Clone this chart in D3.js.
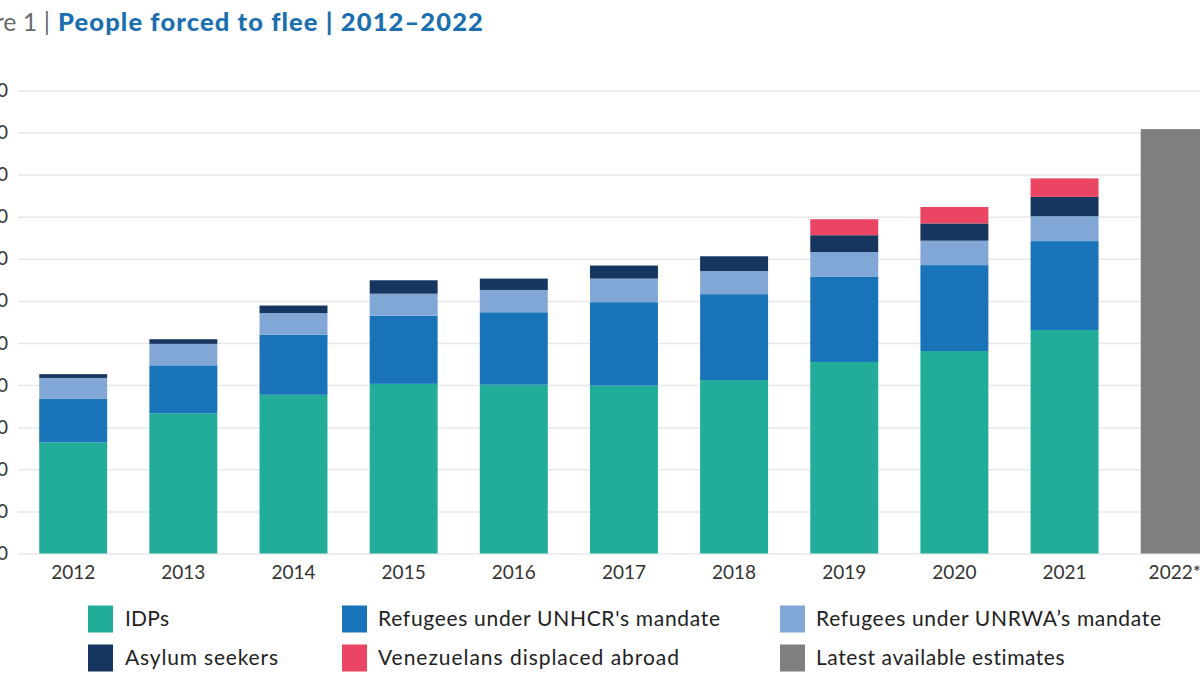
<!DOCTYPE html>
<html>
<head>
<meta charset="utf-8">
<script src="https://cdn.jsdelivr.net/npm/d3@7"></script>
<style>
  html, body { margin: 0; padding: 0; background: #ffffff; }
  svg { display: block; font-family: Lato, "Open Sans", sans-serif; }
</style>
</head>
<body>
<svg id="chart" width="1200" height="675"></svg>
<script>
// ---- Data (millions) ----
const years = ["2012","2013","2014","2015","2016","2017","2018","2019","2020","2021","2022*"];
const idps        = [26.4, 33.3, 37.7, 40.3, 40.1, 39.9, 41.2, 45.5, 48.1, 53.1, 0];
const refUNHCR    = [10.4, 11.4, 14.3, 16.2, 17.2, 19.8, 20.4, 20.3, 20.4, 21.1, 0];
const refUNRWA    = [ 4.9,  5.1,  5.1,  5.2,  5.3,  5.6,  5.5,  5.8,  5.8,  5.9, 0];
const asylum      = [ 0.9,  1.1,  1.8,  3.2,  2.7,  3.1,  3.5,  4.0,  4.1,  4.6, 0];
const venezuelans = [ 0,    0,    0,    0,    0,    0,    0,    3.8,  3.9,  4.4, 0];
const estimates   = [ 0,    0,    0,    0,    0,    0,    0,    0,    0,    0,  100.8];
const yTicks = [0,10,20,30,40,50,60,70,80,90,100,110];

const seriesNames = ["IDPs","Refugees under UNHCR's mandate","Refugees under UNRWA\u2019s mandate",
                     "Asylum seekers","Venezuelans displaced abroad","Latest available estimates"];
const seriesValues = [idps, refUNHCR, refUNRWA, asylum, venezuelans, estimates];
const colors = ["#22ad9a","#1873b8","#81a7d6","#17365f","#ea4562","#7f7e80"];

const svg = d3.select("#chart");

// fit a text element to a target width via letter-spacing
function fitWidth(sel, target) {
  const node = sel.node();
  const len = node.getComputedTextLength();
  const n = node.textContent.length;
  if (n > 1) sel.attr("letter-spacing", ((target - len) / (n - 1)).toFixed(3));
}

// ---- Scales ----
const step = 110.15;
const firstCenter = 73.2;
const x = d3.scaleBand()
  .domain(years)
  .range([firstCenter - step/2, firstCenter - step/2 + years.length*step])
  .paddingInner(0.383)
  .paddingOuter(0.383/2);

const y = d3.scaleLinear().domain([0,110]).range([553.5, 90.4]);

// ---- Gridlines + y-axis labels ----
const yAxis = d3.axisLeft(y).tickValues(yTicks).tickSize(-(1200-18)).tickPadding(10).tickFormat(d3.format("d"));
const gy = svg.append("g").attr("transform","translate(18,0)").call(yAxis);
gy.select(".domain").remove();
gy.selectAll(".tick line").attr("stroke","#e8e8ec").attr("stroke-width",1.5);
gy.selectAll(".tick text").attr("fill","#333").attr("font-size",19).attr("font-family","Lato, sans-serif");

// ---- Stacked bars ----
const table = years.map((yr,i) => {
  const o = {year: yr};
  seriesNames.forEach((s,k) => o[s] = seriesValues[k][i]);
  return o;
});
const stack = d3.stack().keys(seriesNames)(table);

svg.append("g").selectAll("g")
  .data(stack).join("g")
  .attr("fill",(d,i)=>colors[i])
  .selectAll("rect")
  .data(d=>d.filter(v=>v[1]-v[0]>0))
  .join("rect")
  .attr("x", d=>x(d.data.year))
  .attr("width", x.bandwidth())
  .attr("y", d=>y(d[1]))
  .attr("height", d=>y(d[0])-y(d[1]));

// ---- X axis labels ----
const xAxis = d3.axisBottom(x).tickSize(0).tickPadding(11);
const gx = svg.append("g").attr("transform","translate(0,555)").call(xAxis);
gx.select(".domain").remove();
gx.selectAll(".tick text").attr("fill","#333").attr("font-size",19).attr("font-family","Lato, sans-serif");

// ---- Title ----
const title = svg.append("g");
title.append("text")
  .attr("x", 50).attr("y", 31)
  .attr("text-anchor","end")
  .attr("fill","#6b6b6b").attr("font-size",25).attr("font-family","Lato, sans-serif")
  .text("Figure 1 |");
const tMain = title.append("text")
  .attr("x", 58).attr("y", 31)
  .attr("fill","#1c6fae").attr("font-size",25.5).attr("font-weight",900).attr("font-family","Lato, sans-serif")
  .text("People forced to flee | 2012\u20132022");
fitWidth(tMain, 425);

// ---- Legend ----
const legendCols = [88, 342, 780];
const legendRows = [619, 658];
const legendWidths = [44, 342, 345, 153, 301, 249];
const legend = svg.append("g");
seriesNames.forEach((name,i) => {
  const col = i % 3, row = Math.floor(i/3);
  const g = legend.append("g").attr("transform",`translate(${legendCols[col]},${legendRows[row]})`);
  g.append("rect").attr("x",0).attr("y",-13.5).attr("width",25).attr("height",27).attr("fill",colors[i]);
  const t = g.append("text").attr("x", col === 0 ? 37 : 36).attr("y",0).attr("dy","0.35em")
    .attr("fill","#222").attr("font-size",21).attr("font-family","Lato, sans-serif")
    .text(name);
  fitWidth(t, legendWidths[i]);
});
</script>
</body>
</html>
